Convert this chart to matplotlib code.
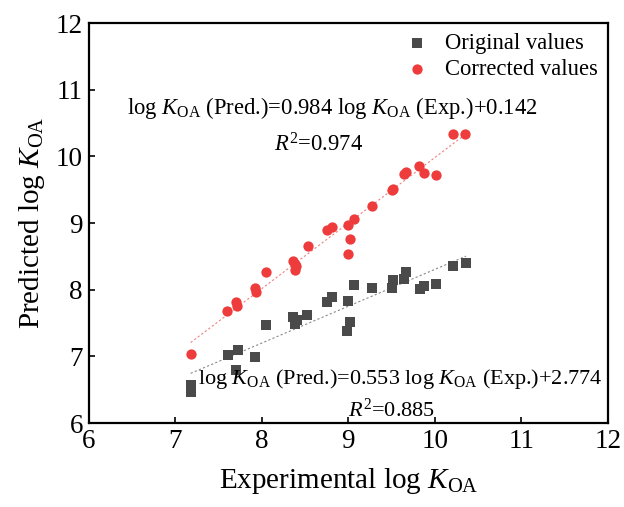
import numpy as np
import matplotlib
matplotlib.use('Agg')
import matplotlib.pyplot as plt

plt.rcParams['font.family'] = ['Liberation Serif', 'DejaVu Serif']
plt.rcParams['mathtext.fontset'] = 'custom'
plt.rcParams['mathtext.rm'] = 'Liberation Serif'
plt.rcParams['mathtext.it'] = 'Liberation Serif:italic'

# original (uncorrected) predictions
orig_x = [7.18, 7.18, 7.61, 7.73, 7.70, 7.92, 8.05, 8.36, 8.41, 8.39, 8.52, 8.75, 8.81,
          9.00, 9.07, 9.02, 8.99, 9.27, 9.51, 9.52, 9.64, 9.67, 9.83, 9.87, 10.01, 10.21, 10.36]
orig_y = [6.57, 6.47, 7.02, 7.10, 6.79, 6.99, 7.47, 7.59, 7.54, 7.48, 7.62, 7.81, 7.89,
          7.83, 8.07, 7.52, 7.38, 8.03, 8.03, 8.14, 8.16, 8.26, 8.01, 8.06, 8.09, 8.36, 8.40]

# corrected predictions
corr_x = [7.18, 7.60, 7.70, 7.72, 7.92, 7.93, 8.05, 8.36, 8.38, 8.40, 8.39, 8.53, 8.75, 8.81,
          9.00, 9.07, 9.02, 9.00, 9.27, 9.51, 9.52, 9.64, 9.67, 9.82, 9.88, 10.01, 10.21, 10.35]
corr_y = [7.04, 7.68, 7.82, 7.75, 8.03, 7.97, 8.27, 8.43, 8.38, 8.36, 8.30, 8.65, 8.89, 8.94,
          8.97, 9.06, 8.76, 8.54, 9.25, 9.50, 9.51, 9.73, 9.76, 9.86, 9.75, 9.72, 10.33, 10.33]

# fitted lines (slope, intercept) from the figure
orig_fit = (0.553, 2.774)
corr_fit = (0.984, 0.142)

fig = plt.figure(figsize=(6.24, 5.07), dpi=100)
ax = fig.add_axes([88.5/624, (507-423)/507, (608-88.5)/624, 400/507])

xs = np.array([min(orig_x), max(orig_x)])
ax.plot(xs, orig_fit[0]*xs + orig_fit[1], ls=(0, (2, 2)), color='#8a8a8a', lw=0.8)
xs = np.array([min(corr_x), max(corr_x)])
ax.plot(xs, corr_fit[0]*xs + corr_fit[1], ls=(0, (2, 2)), color='#F08080', lw=0.8)

ax.scatter(orig_x, orig_y, marker='s', s=55, color='#4a4a4a', label='Original values', zorder=3, linewidths=0)
ax.scatter(corr_x, corr_y, marker='o', s=55, color='#EE3B3B', label='Corrected values', zorder=3, linewidths=0)

ax.set_xlim(6, 12)
ax.set_ylim(6, 12)
ax.set_xticks(range(6, 13))
ax.set_yticks(range(6, 13))
ax.tick_params(direction='in', length=4, width=1.2, labelsize=19.5, pad=4)
for sp in ax.spines.values():
    sp.set_linewidth(1.6)

ax.set_xlabel(r'Experimental log $K_{\mathrm{OA}}$', fontsize=21, labelpad=9)
ax.set_ylabel(r'Predicted log $K_{\mathrm{OA}}$', fontsize=21, labelpad=6)

ax.text(8.82, 10.72, r'log $K_{\mathrm{OA}}$ (Pred.)=0.984 log $K_{\mathrm{OA}}$ (Exp.)+0.142',
        fontsize=16.3, ha='center', va='center')
ax.text(8.66, 10.17, r'$R^2$=0.974', fontsize=16.3, ha='center', va='center')
ax.text(9.6, 6.66, r'log $K_{\mathrm{OA}}$ (Pred.)=0.553 log $K_{\mathrm{OA}}$ (Exp.)+2.774',
        fontsize=16.0, ha='center', va='center')
ax.text(9.5, 6.19, r'$R^2$=0.885', fontsize=16.0, ha='center', va='center')

ax.legend(loc='upper right', frameon=False, fontsize=16.3, handletextpad=0.75,
          borderaxespad=0.05, labelspacing=0.22, handlelength=1.0)

fig.savefig('out.png', dpi=100)
